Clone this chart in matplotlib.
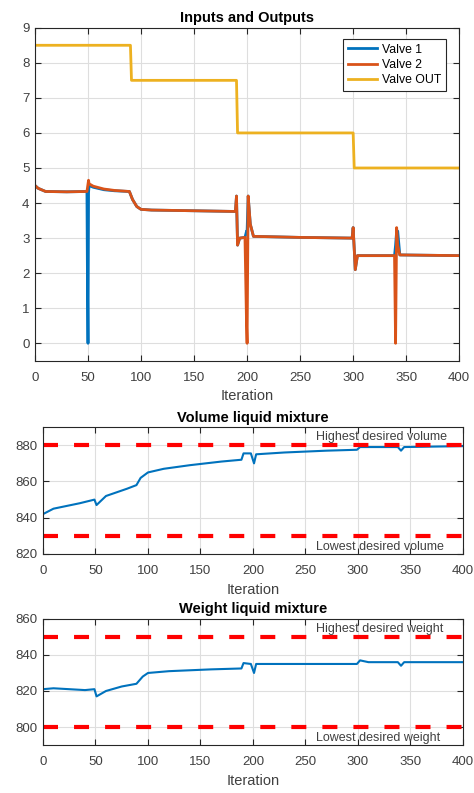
import numpy as np
import matplotlib
matplotlib.use("Agg")
import matplotlib.pyplot as plt

plt.rcParams['font.family'] = ['Liberation Sans', 'DejaVu Sans']

# ---- data (breakpoints of each trace) ----
valve_out_x = [0, 90, 91, 190, 191, 300, 301, 400]
valve_out_y = [8.5, 8.5, 7.5, 7.5, 6.0, 6.0, 5.0, 5.0]

valve1_x = [0, 3, 10, 30, 49, 49.5, 50, 50.5, 51, 55, 65, 75, 89, 92, 96, 100, 110, 150, 189,
            190, 191, 193, 198, 199.5, 200, 201, 203, 206, 250, 299, 300, 302, 304, 339, 340,
            341, 342, 344, 400]
valve1_y = [4.5, 4.42, 4.33, 4.32, 4.33, 1.7, 0.0, 4.3, 4.5, 4.45, 4.38, 4.35, 4.33, 4.1, 3.9,
            3.82, 3.8, 3.78, 3.76, 4.2, 2.8, 3.0, 3.02, 3.2, 3.2, 4.2, 3.4, 3.05, 3.02, 3.0, 3.3,
            2.1, 2.5, 2.5, 2.8, 3.2, 3.2, 2.52, 2.5]

valve2_x = [0, 3, 10, 30, 49, 50.5, 51, 55, 65, 75, 89, 92, 96, 100, 110, 150, 189, 190, 191,
            193, 198, 199.5, 200, 201, 203, 206, 250, 299, 300, 302, 304, 339, 340, 341, 342,
            344, 400]
valve2_y = [4.5, 4.42, 4.33, 4.32, 4.33, 4.65, 4.55, 4.48, 4.4, 4.36, 4.33, 4.1, 3.9, 3.82,
            3.8, 3.78, 3.76, 4.2, 2.8, 3.0, 3.02, 0.5, 0.0, 4.2, 3.4, 3.05, 3.02, 3.0, 3.3, 2.1,
            2.5, 2.5, 0.0, 3.3, 2.8, 2.52, 2.5]

volume_x = [0, 10, 35, 49, 51, 60, 80, 89, 93, 100, 115, 140, 170, 189, 191, 198, 201, 203,
            230, 270, 299, 302, 338, 341, 344, 400]
volume_y = [842, 845, 848, 850, 847, 852, 856, 858, 862, 865, 867, 869, 871, 872, 875.5, 875.5,
            870, 875, 876, 877, 877.5, 879, 879, 877, 879, 879.5]
volume_limits = [880, 830]
volume_labels = ['Highest desired volume', 'Lowest desired volume']

weight_x = [0, 10, 40, 49, 51, 60, 75, 89, 95, 100, 120, 160, 189, 191, 198, 201, 203, 299,
            302, 310, 338, 341, 344, 400]
weight_y = [821, 821.5, 820.5, 821, 817, 820, 822.5, 824, 828, 830, 831, 832, 832.5, 835.5,
            835, 830, 835, 835, 837, 836, 836, 834, 836, 836]
weight_limits = [850, 800]
weight_labels = ['Highest desired weight', 'Lowest desired weight']

x_ticks = [0, 50, 100, 150, 200, 250, 300, 350, 400]

BLUE = '#0072BD'
ORANGE = '#D95319'
YELLOW = '#EDB120'
TXT = '#404040'


def style(ax, title):
    ax.set_xlim(0, 400)
    ax.set_xticks(x_ticks)
    ax.grid(True, color='#dedede', lw=0.8)
    ax.set_axisbelow(True)
    ax.tick_params(direction='in', top=True, right=True, length=4, labelsize=9.5,
                   labelcolor=TXT, color='#262626')
    ax.tick_params(axis='x', pad=8)
    ax.tick_params(axis='y', pad=4)
    for s in ax.spines.values():
        s.set_color('#262626')
        s.set_linewidth(0.8)
    ax.set_title(title, fontsize=10.5, fontweight='bold', color='black', pad=4)
    ax.set_xlabel('Iteration', fontsize=10.5, color=TXT, labelpad=4)


fig = plt.figure(figsize=(4.74, 7.93), dpi=100)

ax1 = fig.add_axes([0.0738, 0.545, 0.895, 0.42])
ax1.plot(valve1_x, valve1_y, color=BLUE, lw=2, label='Valve 1')
ax1.plot(valve2_x, valve2_y, color=ORANGE, lw=2, label='Valve 2')
ax1.plot(valve_out_x, valve_out_y, color=YELLOW, lw=2, label='Valve OUT')
ax1.set_ylim(-0.5, 9)
ax1.set_yticks(range(0, 10))
style(ax1, 'Inputs and Outputs')
leg = ax1.legend(loc='upper right', bbox_to_anchor=(0.969, 0.967), borderaxespad=0,
                 fontsize=8.8, fancybox=False, framealpha=1, edgecolor='#262626',
                 handlelength=2.4, borderpad=0.4, labelspacing=0.28, handletextpad=0.4)
leg.get_frame().set_linewidth(0.8)

ax2 = fig.add_axes([0.0907, 0.3014, 0.886, 0.160])
ax2.plot(volume_x, volume_y, color=BLUE, lw=1.5)
for v in volume_limits:
    ax2.axhline(v, color='red', lw=3, dashes=(3.6, 3.85))
ax2.text(260, volume_limits[0] + 1.2, volume_labels[0], fontsize=9, color=TXT, va='bottom')
ax2.text(260, 820.8, volume_labels[1], fontsize=9, color=TXT, va='bottom')
ax2.set_ylim(820, 890)
ax2.set_yticks([820, 840, 860, 880])
style(ax2, 'Volume liquid mixture')

ax3 = fig.add_axes([0.0907, 0.0605, 0.886, 0.159])
ax3.plot(weight_x, weight_y, color=BLUE, lw=1.5)
for v in weight_limits:
    ax3.axhline(v, color='red', lw=3, dashes=(3.6, 3.85))
ax3.text(260, weight_limits[0] + 1.2, weight_labels[0], fontsize=9, color=TXT, va='bottom')
ax3.text(260, 790.8, weight_labels[1], fontsize=9, color=TXT, va='bottom')
ax3.set_ylim(790, 860)
ax3.set_yticks([800, 820, 840, 860])
style(ax3, 'Weight liquid mixture')

fig.savefig('out.png', dpi=100)
